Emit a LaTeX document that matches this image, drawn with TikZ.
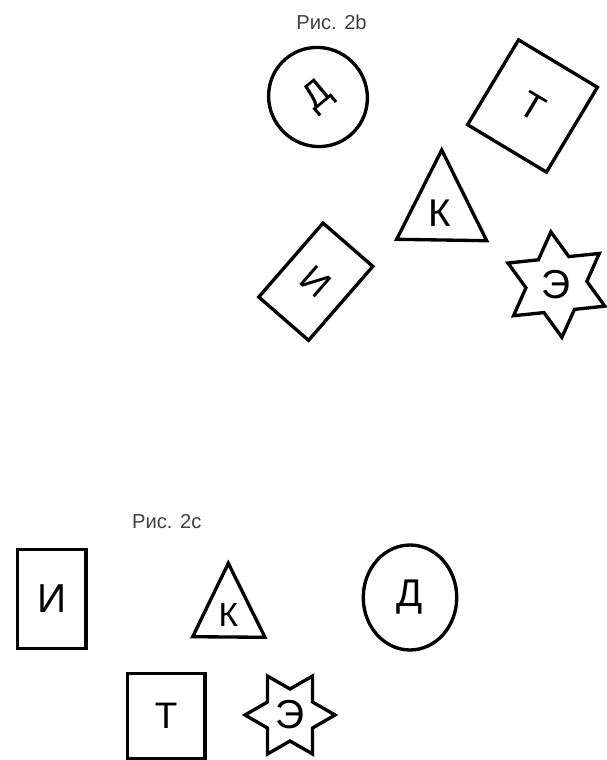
\documentclass[tikz,border=0pt]{standalone}
\usepackage{fontspec}
\setmainfont{Liberation Sans}
\usetikzlibrary{shapes.geometric}
\tikzset{
  figLine/.style={draw=black, line width=1.9pt},
  glyph/.style={font=\fontsize{#1}{#1}\selectfont},
  glyph/.default=21,
  figBox/.style={figLine, rectangle, inner sep=0pt, glyph},
  figRound/.style={figLine, ellipse, inner sep=0pt, glyph},
  figStar/.style={figLine, star, star points=6, star point ratio=1.73,
                  inner sep=0pt, glyph=23},
  capText/.style={font=\fontsize{11.5}{13}\selectfont, text=black!75}
}
\begin{document}
\begin{tikzpicture}[x=0.02cm,y=-0.02cm]
  \useasboundingbox (0,0) rectangle (606,760);
  % Fig. 2b
  \node[capText] (capB) at (331.5,22.3) {Рис. 2b};
  \node[figRound, minimum width=1.96cm, minimum height=2cm, rotate=40] (roundD) at (318,97) {Д};
  \node[figBox, minimum width=1.84cm, minimum height=1.98cm, rotate=-31] (boxT) at (532.5,106) {Т};
  \node[glyph=22] (letK) at (440,213) {К};
  \draw[figLine] (441.7,150) -- (396.7,239.3) -- (486.7,240.7) -- cycle;
  \node[figBox, minimum width=1.32cm, minimum height=1.96cm, rotate=-41] (boxI) at (315.8,281.7) {И};
  \node[figStar, minimum size=2.12cm, shape border rotate=6] (starE) at (556.4,284.6) {Э};
  % Fig. 2c
  \node[capText] (capC) at (166.7,521.7) {Рис. 2c};
  \node[figBox, glyph=23, minimum width=1.374cm, minimum height=1.98cm] (boxI2) at (51.7,598.8) {И};
  \node[glyph=19] (letK2) at (228.3,615) {К};
  \draw[figLine] (228.3,563.3) -- (192.7,636.7) -- (265,637.3) -- cycle;
  \node[figRound, glyph=22, minimum width=1.87cm, minimum height=2.1cm] (roundD2) at (410,597.5) {Д};
  \node[figBox, minimum width=1.554cm, minimum height=1.7cm] (boxT2) at (166.2,715.8) {Т};
  \node[figStar, minimum size=1.8cm, shape border rotate=90] (starE2) at (290,715) {Э};
\end{tikzpicture}
\end{document}
